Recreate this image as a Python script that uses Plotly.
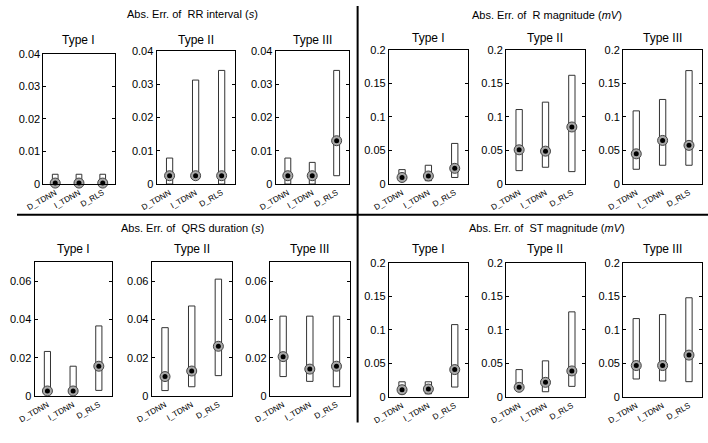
import plotly.graph_objects as go

W, H = 708, 443
methods = ["D_TDNN", "I_TDNN", "D_RLS"]
types = ["Type I", "Type II", "Type III"]

# RR interval (s)
rr_low = [[0, 0, 0], [0, 0.0025, 0], [0, 0, 0.0025]]
rr_high = [[0.003, 0.003, 0.003], [0.0078, 0.0312, 0.0341], [0.0078, 0.0065, 0.0341]]
rr_med = [[0.0003, 0.0003, 0.0003], [0.0025, 0.0025, 0.0025], [0.0025, 0.0025, 0.013]]

# R magnitude (mV)
rm_low = [[0.005, 0.005, 0.0098], [0.020, 0.025, 0.0185], [0.022, 0.028, 0.028]]
rm_high = [[0.0215, 0.028, 0.0605], [0.111, 0.122, 0.162], [0.109, 0.126, 0.169]]
rm_med = [[0.0098, 0.012, 0.0234], [0.051, 0.049, 0.085], [0.045, 0.065, 0.0576]]

# QRS duration (s)
qrs_low = [[0.0027, 0.0027, 0.003], [0.0029, 0.0049, 0.0107], [0.0102, 0.0077, 0.0049]]
qrs_high = [[0.0233, 0.0156, 0.0366], [0.0357, 0.047, 0.061], [0.0417, 0.0417, 0.0417]]
qrs_med = [[0.0027, 0.0027, 0.0156], [0.0102, 0.0131, 0.026], [0.0206, 0.0141, 0.0156]]

# ST magnitude (mV)
st_low = [[0.005, 0.005, 0.015], [0.0097, 0.008, 0.016], [0.027, 0.024, 0.023]]
st_high = [[0.0228, 0.0228, 0.108], [0.041, 0.054, 0.127], [0.117, 0.123, 0.148]]
st_med = [[0.011, 0.012, 0.041], [0.0146, 0.022, 0.039], [0.047, 0.047, 0.0626]]

groups = [
    dict(title="Abs. Err. of &nbsp;RR interval (<i>s</i>)", low=rr_low, high=rr_high, med=rr_med,
         yr=[0, 0.04], tv=[0, 0.01, 0.02, 0.03, 0.04], tt=["0", "0.01", "0.02", "0.03", "0.04"],
         xs=[(27, 100), (143, 223), (265, 340)], ys=[(49, 183), (46, 183), (46, 183)],
         tx=180, ty=8, sty=35),
    dict(title="Abs. Err. of &nbsp;R magnitude (<i>mV</i>)", low=rm_low, high=rm_high, med=rm_med,
         yr=[0, 0.2], tv=[0, 0.05, 0.1, 0.15, 0.2], tt=["0", "0.05", "0.1", "0.15", "0.2"],
         xs=[(381, 462), (501, 582), (621, 702)], ys=[(45, 183)] * 3,
         tx=543, ty=9, sty=33),
    dict(title="Abs. Err. of &nbsp;QRS duration (<i>s</i>)", low=qrs_low, high=qrs_high, med=qrs_med,
         yr=[0, 0.07], tv=[0, 0.02, 0.04, 0.06], tt=["0", "0.02", "0.04", "0.06"],
         xs=[(18, 97), (138, 220), (259, 341)], ys=[(263, 401)] * 3,
         tx=180, ty=228, sty=250),
    dict(title="Abs. Err. of &nbsp;ST magnitude (<i>mV</i>)", low=st_low, high=st_high, med=st_med,
         yr=[0, 0.2], tv=[0, 0.05, 0.1, 0.15, 0.2], tt=["0", "0.05", "0.1", "0.15", "0.2"],
         xs=[(381, 462), (501, 582), (621, 702)], ys=[(264, 402)] * 3,
         tx=543, ty=228, sty=250),
]

fig = go.Figure()
layout = dict(width=W, height=H, margin=dict(l=0, r=0, t=0, b=0),
              paper_bgcolor="white", plot_bgcolor="white", showlegend=False,
              font=dict(family="Liberation Sans, Arial, sans-serif", color="black"))
annotations = []
shapes = []
FONT = "Liberation Sans, Arial, sans-serif"

k = 0
for g in groups:
    annotations.append(dict(text=g["title"], x=g["tx"] / W, y=1 - g["ty"] / H, xref="paper", yref="paper",
                            showarrow=False, xanchor="center", yanchor="middle", font=dict(size=11, family=FONT)))
    for j in range(3):
        k += 1
        xa = "x" if k == 1 else f"x{k}"
        ya = "y" if k == 1 else f"y{k}"
        lows = g["low"][j]
        highs = g["high"][j]
        meds = g["med"][j]
        fig.add_trace(go.Bar(x=[1, 2, 3], y=[h - l for h, l in zip(highs, lows)], base=lows, width=0.24,
                             marker=dict(color="white", line=dict(color="#333333", width=1)),
                             xaxis=xa, yaxis=ya, hoverinfo="skip"))
        fig.add_trace(go.Scatter(x=[1, 2, 3], y=meds, mode="markers",
                                 marker=dict(symbol="circle", size=10, color="#a8a8a8",
                                             line=dict(color="#444444", width=1)),
                                 xaxis=xa, yaxis=ya, cliponaxis=False, hoverinfo="skip"))
        fig.add_trace(go.Scatter(x=[1, 2, 3], y=meds, mode="markers",
                                 marker=dict(symbol="circle", size=5, color="black"),
                                 xaxis=xa, yaxis=ya, cliponaxis=False, hoverinfo="skip"))
        x0, x1 = g["xs"][j]
        y0, y1 = g["ys"][j]
        layout["xaxis" if k == 1 else f"xaxis{k}"] = dict(
            domain=[x0 / W, x1 / W], anchor=ya, range=[0.5, 3.5], tickvals=[1, 2, 3], ticktext=methods,
            tickangle=-30, tickfont=dict(size=8, family=FONT), showline=True, mirror=True,
            linecolor="black", linewidth=1, ticks="", showgrid=False, zeroline=False, fixedrange=True)
        layout["yaxis" if k == 1 else f"yaxis{k}"] = dict(
            domain=[1 - y1 / H, 1 - y0 / H], anchor=xa, range=g["yr"], tickvals=g["tv"], ticktext=g["tt"],
            tickfont=dict(size=11, family=FONT), showline=True, mirror="ticks", linecolor="black",
            linewidth=1, ticks="inside", ticklen=3, tickcolor="black", showgrid=False, zeroline=False,
            fixedrange=True)
        annotations.append(dict(text=types[j], x=(x0 + x1) / 2 / W, y=1 - g["sty"] / H, xref="paper",
                                yref="paper", showarrow=False, xanchor="center", yanchor="middle",
                                font=dict(size=12, family=FONT)))

shapes.append(dict(type="line", xref="paper", yref="paper", x0=349 / W, x1=349 / W, y0=1, y1=1 - 428 / H,
                   line=dict(color="black", width=2)))
shapes.append(dict(type="line", xref="paper", yref="paper", x0=0, x1=1, y0=1 - 214.5 / H, y1=1 - 214.5 / H,
                   line=dict(color="black", width=2)))

layout["annotations"] = annotations
layout["shapes"] = shapes
fig.update_layout(**layout)
fig.write_html("out.html")
